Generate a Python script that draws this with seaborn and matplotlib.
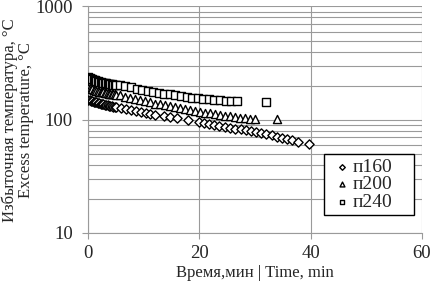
import matplotlib
matplotlib.use('Agg')
import matplotlib.pyplot as plt
import matplotlib.ticker as mticker
import numpy as np
import pandas as pd
import seaborn as sns

# n160 (diamonds)
t160 = [0, 0.25, 0.5, 0.75, 1.0, 1.25, 1.5, 1.75, 2.0, 2.25, 2.5, 2.75, 3.0, 3.25, 3.5, 3.75,
        4.0, 4.25, 4.5, 4.75, 5.0,
        5.9, 6.8, 7.7, 8.6, 9.5, 10.4, 11.2, 12.0, 13.6, 14.7, 15.9, 17.9, 19.9,
        20.8, 21.8, 22.7, 23.6, 24.6, 25.5, 26.4, 27.4, 28.3, 29.2, 30.2, 31.1, 32.0,
        33.0, 33.9, 34.8, 35.8, 36.7, 37.7, 39.8]
v160 = [150, 148, 147, 145, 144, 143, 142, 141, 140, 139, 138, 137, 136, 135, 134, 133,
        132, 131, 130, 129.5, 129,
        127, 124, 122, 120, 118, 115, 113, 111, 108, 106, 104, 99, 95,
        93, 91.5, 90, 88, 86, 85, 83.5, 82, 80.5, 79, 78, 76, 74.5,
        73, 71, 69.5, 68, 66, 64, 61]

# n200 (triangles)
t200 = [0, 0.25, 0.5, 0.75, 1.0, 1.25, 1.5, 1.75, 2.0, 2.25, 2.5, 2.75, 3.0, 3.25, 3.5, 3.75,
        4.0, 4.25, 4.5, 4.75, 5.0,
        5.7, 6.6, 7.5, 8.4, 9.3, 10.2, 11.1, 12.0, 12.9, 13.8, 14.7, 15.6, 16.5, 17.4,
        18.3, 19.2, 20.1, 21.0, 21.9, 22.8, 23.7, 24.6, 25.5, 26.4, 27.3, 28.2, 29.1,
        30.0, 34.0]
v200 = [192, 190, 188, 186, 184, 182, 180, 178, 177, 176, 175, 174, 173, 172, 171, 170,
        169, 168, 167.5, 167, 166,
        164, 160, 156, 152, 148, 145, 142, 139, 137, 134, 132, 129, 127, 124,
        122, 119, 117, 115, 113.5, 112, 110, 108.5, 107, 105.5, 104.5, 103, 102,
        101, 101]

# n240 (squares)
t240 = [0, 0.25, 0.5, 0.75, 1.0, 1.25, 1.5, 1.75, 2.0, 2.25, 2.5, 2.75, 3.0, 3.25, 3.5, 3.75,
        4.0, 4.25, 4.5, 4.75, 5.0,
        5.7, 6.7, 7.7, 8.7, 9.7, 10.7, 11.7, 12.7, 13.7, 14.7, 15.7, 16.7, 17.7, 18.7,
        19.7, 20.7, 21.7, 22.7, 23.7, 24.7, 25.7, 26.7, 31.9]
v240 = [237, 234, 231, 228, 225, 222, 220, 218, 216, 214, 212, 211, 210, 209, 208, 207,
        206, 205, 204.5, 204, 203,
        201, 197, 193, 186, 182, 179, 176, 173, 170, 167, 165, 162, 159, 157,
        154, 152, 151, 149.5, 148, 147, 146, 145, 142]

names = ['п160', 'п200', 'п240']
markers = {'п160': 'D', 'п200': '^', 'п240': 's'}
sizes = {'п160': 22, 'п200': 34, 'п240': 32}

df = pd.concat([
    pd.DataFrame({'t': t160, 'v': v160, 's': names[0]}),
    pd.DataFrame({'t': t200, 'v': v200, 's': names[1]}),
    pd.DataFrame({'t': t240, 'v': v240, 's': names[2]}),
])

sns.set_style('white')
plt.rcParams['font.family'] = ['Liberation Serif', 'DejaVu Serif']

fig = plt.figure(figsize=(4.3, 2.82), dpi=100)
ax = fig.add_axes([0.205, 0.174, 0.776, 0.803])

for name in names:
    d = df[df['s'] == name]
    sns.scatterplot(data=d, x='t', y='v', marker=markers[name], s=sizes[name],
                    facecolor='white', edgecolor='black', linewidth=1.0,
                    label=name, ax=ax, zorder=3)

ax.set_yscale('log')
ax.set_xlim(0, 60)
ax.set_ylim(10, 1000)
ax.set_xticks([0, 20, 40, 60])
ax.yaxis.set_major_formatter(mticker.FuncFormatter(lambda v, p: '%d' % v))
ax.yaxis.set_minor_formatter(mticker.NullFormatter())
ax.yaxis.set_minor_locator(mticker.LogLocator(base=10, subs=np.arange(2, 10)))

grid_col = '#9a9a9a'
ax.grid(True, which='major', color=grid_col, linewidth=0.8)
ax.grid(True, which='minor', axis='y', color=grid_col, linewidth=0.8)
ax.set_axisbelow(True)
for side in ['top', 'right']:
    ax.spines[side].set_visible(False)
for side in ['left', 'bottom']:
    ax.spines[side].set_color(grid_col)
    ax.spines[side].set_linewidth(0.8)

ax.tick_params(axis='both', which='major', labelsize=13.5, length=4, color=grid_col,
               direction='out', bottom=True, left=True)
ax.tick_params(axis='x', which='major', pad=5)
ax.tick_params(axis='y', which='major', pad=7)
ax.tick_params(axis='y', which='minor', length=0)

ax.set_xlabel('Время,мин | Time, min', fontsize=12, labelpad=0)
ax.xaxis.set_label_coords(0.5, -0.14)
ax.set_ylabel('Избыточная температура, °С\nExcess temperature, °С', fontsize=12,
              linespacing=0.95)
ax.yaxis.set_label_coords(-0.163, 0.5)

# legend box stretched to the Excel-like width, entries kept on the left
leg = ax.legend(loc='lower left', bbox_to_anchor=(0.707, 0.08, 0.269, 0.27),
                mode='expand', borderaxespad=0,
                fontsize=14, frameon=True, fancybox=False, edgecolor='black',
                framealpha=1, handletextpad=-0.2, borderpad=0.2, labelspacing=0.0,
                markerscale=0.6, handlelength=1.45)
leg.get_frame().set_linewidth(1.0)

fig.savefig('out.png', dpi=100)
